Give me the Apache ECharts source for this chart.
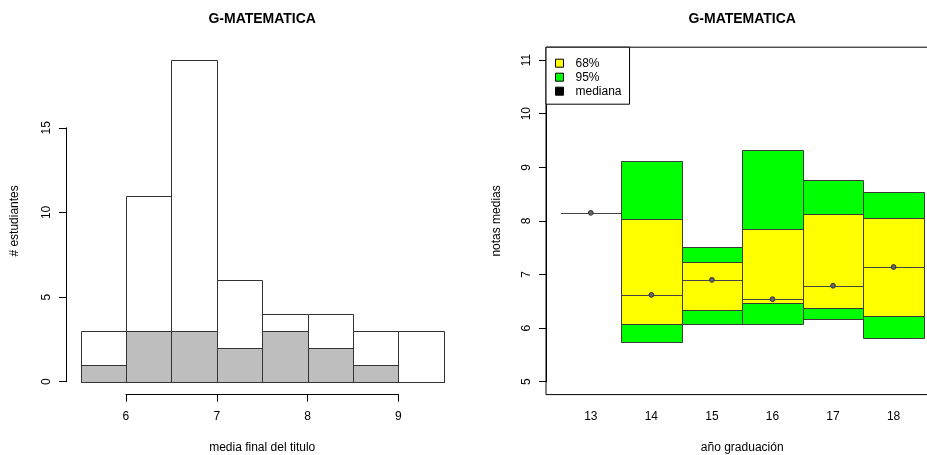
<!DOCTYPE html>
<html><head><meta charset="utf-8">
<script src="https://cdn.jsdelivr.net/npm/echarts@6/dist/echarts.min.js"></script>
<style>html,body{margin:0;padding:0;background:#fff}#c{width:927px;height:455px}</style>
</head><body><div id="c"></div>
<script>
// ---- data: histogram ----
const histBreaks = [5.5, 6, 6.5, 7, 7.5, 8, 8.5, 9, 9.5];
const histTotal  = [3, 11, 19, 6, 4, 4, 3, 3];
const histSub    = [1, 3, 3, 2, 3, 2, 1, 0];
const histXTicks = [6, 7, 8, 9];
const histYTicks = [0, 5, 10, 15];

// ---- data: intervals per graduation year ----
const years = [13, 14, 15, 16, 17, 18];
const lo95 = [8.15, 5.75, 6.07, 6.08, 6.17, 5.82];
const hi95 = [8.15, 9.12, 7.51, 9.32, 8.76, 8.54];
const lo68 = [8.15, 6.08, 6.34, 6.46, 6.37, 6.23];
const hi68 = [8.15, 8.04, 7.23, 7.85, 8.13, 8.05];
const med  = [8.15, 6.62, 6.90, 6.54, 6.79, 7.14];
const boxYTicks = [5, 6, 7, 8, 9, 10, 11];

const titleText = 'G-MATEMATICA';
const histXName = 'media final del titulo';
const histYName = '# estudiantes';
const boxXName = 'año graduación';
const boxYName = 'notas medias';

// ---- layout ----
const FONT = "'Liberation Sans', Arial, sans-serif";
const H = {left: 66, top: 47.2, width: 392.4, height: 347.4, xMin: 5.34, xMax: 9.66, yMin: -0.76, yMax: 19.76};
const B = {left: 546, top: 47.2, width: 392.4, height: 347.4, xMin: 12.26, xMax: 18.74, yMin: 4.76, yMax: 11.24};
const BOX_HALF = 0.5;
function gx(L, v) { return L.left + (v - L.xMin) / (L.xMax - L.xMin) * L.width; }
function gy(L, v) { return L.top + (L.yMax - v) / (L.yMax - L.yMin) * L.height; }
const first = a => a[0], last = a => a[a.length - 1];

const grids = [
  {left: H.left, top: H.top, width: H.width, height: H.height},
  {left: H.left, width: H.width, top: gy(H, last(histYTicks)), height: gy(H, first(histYTicks)) - gy(H, last(histYTicks))},
  {left: gx(H, first(histXTicks)), width: gx(H, last(histXTicks)) - gx(H, first(histXTicks)), top: H.top, height: H.height},
  {left: B.left, top: B.top, width: B.width, height: B.height, show: true, borderColor: '#000', borderWidth: 1, backgroundColor: 'transparent'},
  {left: B.left, width: B.width, top: gy(B, last(boxYTicks)), height: gy(B, first(boxYTicks)) - gy(B, last(boxYTicks))},
  {left: gx(B, first(years)), width: gx(B, last(years)) - gx(B, first(years)), top: B.top, height: B.height}
].map(g => Object.assign({containLabel: false, outerBoundsMode: 'none'}, g));

const hidden = (gi, min, max) => ({gridIndex: gi, type: 'value', show: false, min: min, max: max});
const lab = {fontFamily: FONT, fontSize: 12, color: '#000', showMinLabel: true, showMaxLabel: true};
const tick = {show: true, length: 7, lineStyle: {color: '#000', width: 1}};
const line = {show: true, lineStyle: {color: '#000', width: 1}};

const xAxis = [
  hidden(0, H.xMin, H.xMax),
  hidden(1, 0, 1),
  {gridIndex: 2, type: 'value', min: first(histXTicks), max: last(histXTicks), interval: histXTicks[1] - histXTicks[0],
   position: 'bottom', axisLine: line, axisTick: tick, splitLine: {show: false},
   axisLabel: Object.assign({margin: 16}, lab)},
  hidden(3, B.xMin, B.xMax),
  hidden(4, 0, 1),
  {gridIndex: 5, type: 'value', min: first(years), max: last(years), interval: years[1] - years[0],
   position: 'bottom', axisLine: {show: false}, axisTick: {show: false}, splitLine: {show: false},
   axisLabel: Object.assign({margin: 16}, lab)}
];
const yAxis = [
  hidden(0, H.yMin, H.yMax),
  {gridIndex: 1, type: 'value', min: first(histYTicks), max: last(histYTicks), interval: histYTicks[1] - histYTicks[0],
   position: 'left', axisLine: line, axisTick: tick, splitLine: {show: false},
   axisLabel: Object.assign({margin: 13, rotate: 90}, lab)},
  hidden(2, 0, 1),
  hidden(3, B.yMin, B.yMax),
  {gridIndex: 4, type: 'value', min: first(boxYTicks), max: last(boxYTicks), interval: boxYTicks[1] - boxYTicks[0],
   position: 'left', axisLine: line, axisTick: tick, splitLine: {show: false},
   axisLabel: Object.assign({margin: 13, rotate: 90}, lab)},
  hidden(5, 0, 1)
];

const crisp = v => Math.round(v) + 0.5;
function rectBetween(api, x0, y0, x1, y1, fill, stroke) {
  const a = api.coord([x0, y1]);
  const b = api.coord([x1, y0]);
  const xa = crisp(a[0]), ya = crisp(a[1]), xb = crisp(b[0]), yb = crisp(b[1]);
  return {type: 'rect', shape: {x: xa, y: ya, width: xb - xa, height: yb - ya},
          style: {fill: fill, stroke: stroke, lineWidth: 1}};
}

function histSeries(name, counts, fill) {
  return {
    name: name, type: 'custom', xAxisIndex: 0, yAxisIndex: 0, silent: true,
    data: counts.map((c, i) => [histBreaks[i], histBreaks[i + 1], c]),
    encode: {x: [0, 1], y: 2},
    renderItem: (p, api) => rectBetween(api, api.value(0), 0, api.value(1), api.value(2), fill, '#333')
  };
}

function bandSeries(name, lo, hi, fill) {
  return {
    name: name, type: 'custom', xAxisIndex: 3, yAxisIndex: 3, silent: true,
    itemStyle: {color: fill},
    data: years.map((y, i) => [y, lo[i], hi[i]]),
    encode: {x: 0, y: [1, 2]},
    renderItem: (p, api) => rectBetween(api, api.value(0) - BOX_HALF, api.value(1), api.value(0) + BOX_HALF, api.value(2), fill, '#3a3a3a')
  };
}

const medianSeries = {
  name: 'mediana', type: 'custom', xAxisIndex: 3, yAxisIndex: 3, silent: true,
  itemStyle: {color: '#000'},
  data: years.map((y, i) => [y, med[i]]),
  encode: {x: 0, y: 1},
  renderItem: (p, api) => {
    const x = api.value(0), v = api.value(1);
    const a = api.coord([x - BOX_HALF, v]), b = api.coord([x + BOX_HALF, v]), c = api.coord([x, v]);
    const yy = crisp(a[1]);
    return {type: 'group', children: [
      {type: 'line', shape: {x1: crisp(a[0]), y1: yy, x2: crisp(b[0]), y2: yy}, style: {stroke: '#444', lineWidth: 1}},
      {type: 'circle', shape: {cx: c[0], cy: c[1], r: 2.4}, style: {fill: '#666', stroke: '#333', lineWidth: 1}}
    ]};
  }
};

function txt(text, x, y, opts) {
  return Object.assign({type: 'text', x: x, y: y,
    style: Object.assign({text: text, fill: '#000', font: '12px ' + FONT, textAlign: 'center', textVerticalAlign: 'middle'}, opts && opts.style || {})},
    opts && opts.rotation ? {rotation: opts.rotation} : {});
}
const hCx = H.left + H.width / 2, bCx = B.left + B.width / 2, midY = H.top + H.height / 2;
const graphic = [
  txt(titleText, hCx, 19.5, {style: {font: 'bold 14px ' + FONT}}),
  txt(titleText, bCx, 19.5, {style: {font: 'bold 14px ' + FONT}}),
  txt(histXName, hCx, 447.3),
  txt(boxXName, bCx, 447.3),
  txt(histYName, 15, midY, {rotation: Math.PI / 2}),
  txt(boxYName, 496.7, midY, {rotation: Math.PI / 2})
];

const option = {
  animation: false,
  backgroundColor: '#fff',
  grid: grids,
  xAxis: xAxis,
  yAxis: yAxis,
  legend: {
    orient: 'vertical', left: B.left, top: B.top,
    backgroundColor: '#fff', borderColor: '#000', borderWidth: 1, borderRadius: 0,
    padding: [9, 8, 6, 9], itemGap: 0, itemWidth: 8, itemHeight: 8, icon: 'rect',
    selectedMode: false,
    textStyle: {fontFamily: FONT, fontSize: 12, color: '#000', lineHeight: 14, padding: [0, 0, 0, 7]},
    data: [
      {name: '68%', itemStyle: {color: '#ffff00', borderColor: '#000', borderWidth: 1}},
      {name: '95%', itemStyle: {color: '#00ff00', borderColor: '#000', borderWidth: 1}},
      {name: 'mediana', itemStyle: {color: '#000', borderColor: '#000', borderWidth: 1}}
    ]
  },
  graphic: graphic,
  series: [
    histSeries('total', histTotal, '#fff'),
    histSeries('sub', histSub, '#bebebe'),
    bandSeries('95%', lo95, hi95, '#00ff00'),
    bandSeries('68%', lo68, hi68, '#ffff00'),
    medianSeries
  ]
};
const chart = echarts.init(document.getElementById('c'), null, {renderer: 'canvas'});
chart.setOption(option);
</script>
</body></html>
